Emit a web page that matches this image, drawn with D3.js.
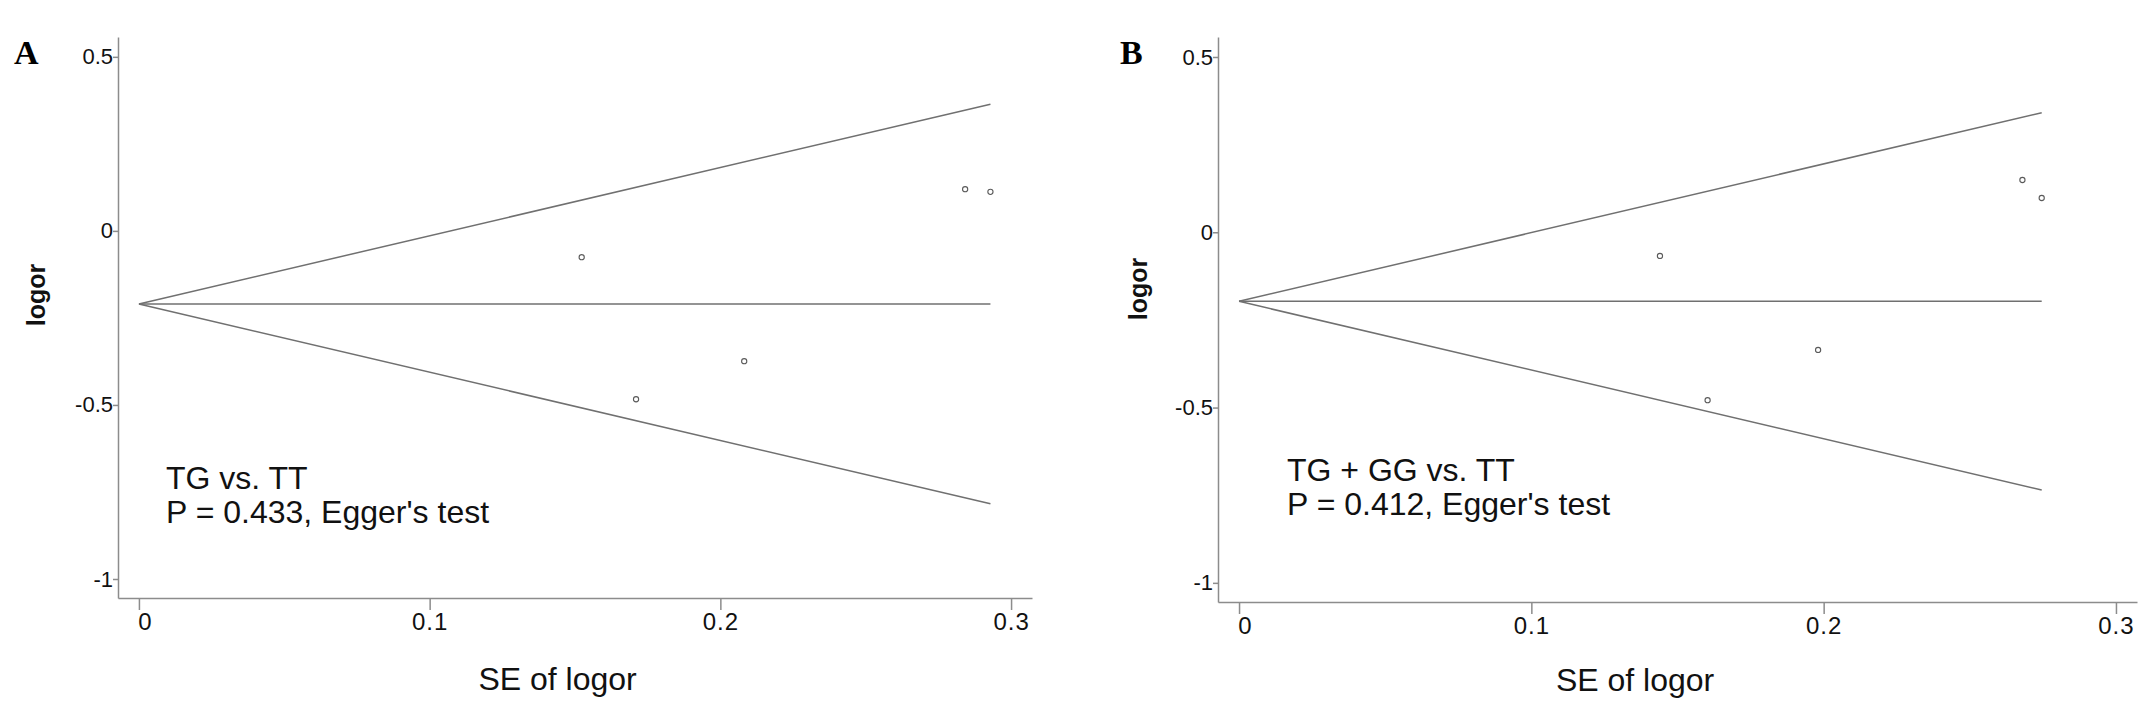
<!DOCTYPE html>
<html>
<head>
<meta charset="utf-8">
<script src="https://cdn.jsdelivr.net/npm/d3@7"></script>
<style>
  body { margin: 0; background: #fff; }
  svg { display: block; }
  .tick text { fill: #111; font-family: "Liberation Sans", Arial, sans-serif; }
</style>
</head>
<body>
<div id="canvas"></div>
<script>
// panel A: TG vs. TT
const seA = [0.1523, 0.2082, 0.1710, 0.2842, 0.2929];
const logorA = [-0.0756, -0.3744, -0.4836, 0.1198, 0.1121];
const pooledA = -0.21;

// panel B: TG + GG vs. TT
const seB = [0.1440, 0.1981, 0.1603, 0.2680, 0.2746];
const logorB = [-0.0676, -0.3356, -0.4790, 0.1491, 0.0978];
const pooledB = -0.197;

const xTicks = [0, 0.1, 0.2, 0.3];
const yTicks = [-1, -0.5, 0, 0.5];
const xDomain = [-0.0072, 0.3072];
const yDomain = [-1.0546, 0.557];

const panels = [
  { letter: "A", se: seA, logor: logorA, pooled: pooledA,
    label1: "TG vs. TT", label2: "P = 0.433, Egger's test",
    left: 118, top: 37, w: 914, h: 561,
    letterX: 14, letterY: 64, yTitleX: 45, yTitleY: 295,
    noteX: 166, noteY: 489, xTitleAt: 0.144, xTitleY: 690 },
  { letter: "B", se: seB, logor: logorB, pooled: pooledB,
    label1: "TG + GG vs. TT", label2: "P = 0.412, Egger's test",
    left: 1218, top: 37, w: 919, h: 565,
    letterX: 1120, letterY: 64, yTitleX: 1147, yTitleY: 289,
    noteX: 1287, noteY: 481, xTitleAt: 0.1355, xTitleY: 691 }
];

const width = 2150, height = 712;
const svg = d3.select("#canvas").append("svg")
  .attr("width", width)
  .attr("height", height);

const lineCol = "#707070", axisCol = "#8c8c8c";

panels.forEach(p => {
  const x = d3.scaleLinear().domain(xDomain).range([0, p.w]);
  const y = d3.scaleLinear().domain(yDomain).range([p.h, 0]);

  const g = svg.append("g").attr("transform", `translate(${p.left},${p.top})`);

  // axes
  const xa = g.append("g")
    .attr("transform", `translate(0,${p.h})`)
    .call(d3.axisBottom(x).tickValues(xTicks).tickFormat(d => String(d)).tickSize(12).tickSizeOuter(0).tickPadding(3));
  xa.selectAll("text").style("font-size", "24px").style("letter-spacing", "1px")
    .attr("dx", d => d === 0 ? 6 : 0);

  const ya = g.append("g")
    .call(d3.axisLeft(y).tickValues(yTicks).tickFormat(d => String(d)).tickSize(5).tickSizeOuter(0).tickPadding(0));
  ya.selectAll("text").style("font-size", "22px");

  g.selectAll(".domain, .tick line").attr("stroke", axisCol).attr("stroke-width", 1.5);

  // funnel lines: pooled +/- 1.96 * SE
  const seMax = d3.max(p.se);
  const funnel = [
    [[0, p.pooled], [seMax, p.pooled + 1.96 * seMax]],
    [[0, p.pooled], [seMax, p.pooled]],
    [[0, p.pooled], [seMax, p.pooled - 1.96 * seMax]]
  ];
  const line = d3.line().x(d => x(d[0])).y(d => y(d[1]));
  g.selectAll(".funnel").data(funnel).enter().append("path")
    .attr("d", line)
    .attr("fill", "none")
    .attr("stroke", lineCol)
    .attr("stroke-width", 1.5);

  // studies
  g.selectAll("circle").data(p.se).enter().append("circle")
    .attr("cx", d => x(d))
    .attr("cy", (d, i) => y(p.logor[i]))
    .attr("r", 2.6)
    .attr("fill", "#fff")
    .attr("stroke", "#5a5a5a")
    .attr("stroke-width", 1.1);

  // texts
  svg.append("text").text(p.letter)
    .attr("x", p.letterX).attr("y", p.letterY)
    .style("font-family", "'Liberation Serif', 'Times New Roman', serif")
    .style("font-weight", "bold").style("font-size", "34px").attr("fill", "#000");

  svg.append("text").text("logor")
    .attr("transform", `translate(${p.yTitleX},${p.yTitleY}) rotate(-90)`)
    .attr("text-anchor", "middle")
    .style("font-family", "'Liberation Sans', Arial, sans-serif")
    .style("font-weight", "bold").style("font-size", "25px").attr("fill", "#111");

  svg.append("text").text("SE of logor")
    .attr("x", p.left + x(p.xTitleAt)).attr("y", p.xTitleY)
    .attr("text-anchor", "middle")
    .style("font-family", "'Liberation Sans', Arial, sans-serif")
    .style("font-size", "32px").attr("fill", "#111");

  [p.label1, p.label2].forEach((t, i) => {
    svg.append("text").text(t)
      .attr("x", p.noteX).attr("y", p.noteY + i * 34)
      .style("font-family", "'Liberation Sans', Arial, sans-serif")
      .style("font-size", "32px").attr("fill", "#111");
  });
});
</script>
</body>
</html>
